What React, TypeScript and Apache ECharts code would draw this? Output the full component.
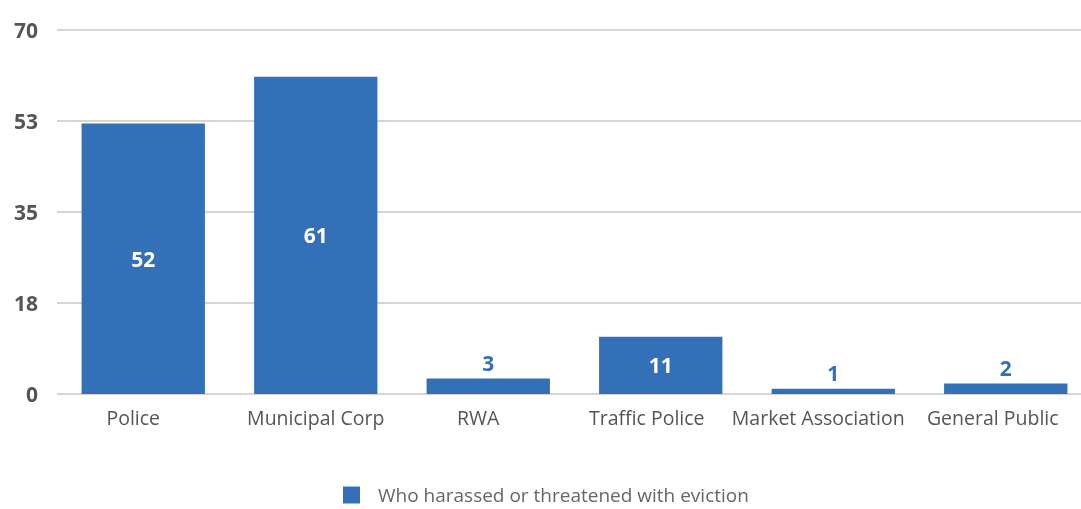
import React, { useEffect, useRef } from "react";
import * as echarts from "echarts";

const categories = ["Police", "Municipal Corp", "RWA", "Traffic Police", "Market Association", "General Public"];
const values = [52, 61, 3, 11, 1, 2];
const seriesName = "Who harassed or threatened with eviction";
const yMax = 70;
const yInterval = 17.5;

const BLUE = "#3370b7";
const FONT = "'Open Sans', sans-serif";
// horizontal nudge (px, leftwards) of each category label, as in the reference
const labelNudge = [10, 0, 10, 14, 15, 13];

export default function App() {
  const ref = useRef<HTMLDivElement>(null);
  useEffect(() => {
    if (!ref.current) return;
    const chart = echarts.init(ref.current, null, { renderer: "svg" });
    chart.setOption({
      animation: false,
      textStyle: { fontFamily: FONT },
      grid: { left: 57, right: 0, top: 30, bottom: 115, containLabel: false },
      legend: {
        data: [seriesName],
        left: 338,
        top: 480,
        padding: 5,
        icon: "rect",
        itemWidth: 17,
        itemHeight: 17,
        itemGap: 10,
        textStyle: { color: "#666", fontSize: 19, lineHeight: 20, fontFamily: FONT, padding: [0, 0, 0, 13] },
      },
      xAxis: {
        type: "category",
        data: categories.map((c, i) => ({
          value: c,
          textStyle: { padding: [0, labelNudge[i] * 2, 0, 0] },
        })),
        axisLine: { show: false },
        axisTick: { show: false },
        axisLabel: { color: "#555", fontSize: 19.5, margin: 13, fontFamily: FONT, interval: 0 },
      },
      yAxis: {
        type: "value",
        min: 0,
        max: yMax,
        interval: yInterval,
        axisLine: { show: false },
        axisTick: { show: false },
        splitLine: { lineStyle: { color: "#ccc6c3", width: 1.5 } },
        axisLabel: {
          color: "#555",
          fontSize: 21,
          fontWeight: "bold",
          margin: 19,
          fontFamily: FONT,
          formatter: (v: number) => String(Math.round(v)),
        },
      },
      series: [
        {
          name: seriesName,
          type: "bar",
          barCategoryGap: "28.5%",
          itemStyle: { color: BLUE },
          data: values.map((v) => ({
            value: v,
            label:
              v >= 10
                ? { show: true, position: "inside", color: "#fff", fontSize: 21, fontWeight: "bold", fontFamily: FONT }
                : { show: true, position: "top", distance: 5, color: BLUE, fontSize: 21, fontWeight: "bold", fontFamily: FONT },
          })),
        },
      ],
    });
    return () => chart.dispose();
  }, []);
  return <div ref={ref} style={{ position: "fixed", left: 0, top: 0, width: 1092, height: 509 }} />;
}
